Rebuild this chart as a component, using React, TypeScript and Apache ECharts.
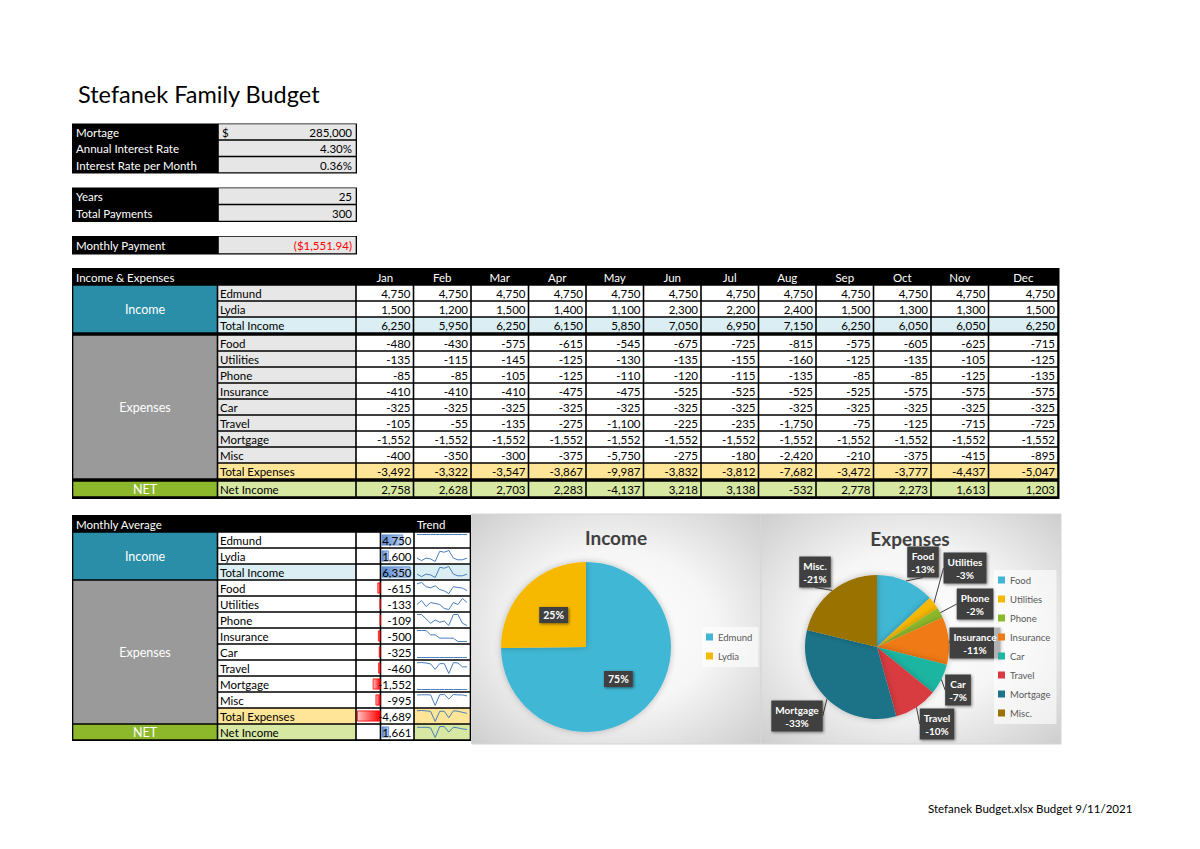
import React, { useEffect, useRef } from 'react';
import * as echarts from 'echarts';

// ---------------- DATA ----------------
const MONTHS = ['Jan', 'Feb', 'Mar', 'Apr', 'May', 'Jun', 'Jul', 'Aug', 'Sep', 'Oct', 'Nov', 'Dec'];
const EDMUND = [4750, 4750, 4750, 4750, 4750, 4750, 4750, 4750, 4750, 4750, 4750, 4750];
const LYDIA = [1500, 1200, 1500, 1400, 1100, 2300, 2200, 2400, 1500, 1300, 1300, 1500];
const FOOD = [-480, -430, -575, -615, -545, -675, -725, -815, -575, -605, -625, -715];
const UTILITIES = [-135, -115, -145, -125, -130, -135, -155, -160, -125, -135, -105, -125];
const PHONE = [-85, -85, -105, -125, -110, -120, -115, -135, -85, -85, -125, -135];
const INSURANCE = [-410, -410, -410, -475, -475, -525, -525, -525, -525, -575, -575, -575];
const CAR = [-325, -325, -325, -325, -325, -325, -325, -325, -325, -325, -325, -325];
const TRAVEL = [-105, -55, -135, -275, -1100, -225, -235, -1750, -75, -125, -715, -725];
const MORTGAGE = [-1551.94, -1551.94, -1551.94, -1551.94, -1551.94, -1551.94, -1551.94, -1551.94, -1551.94, -1551.94, -1551.94, -1551.94];
const MISC = [-400, -350, -300, -375, -5750, -275, -180, -2420, -210, -375, -415, -895];
const EXPENSE_LABELS = ['Food', 'Utilities', 'Phone', 'Insurance', 'Car', 'Travel', 'Mortgage', 'Misc'];
const EXPENSE_PIE_NAMES = ['Food', 'Utilities', 'Phone', 'Insurance', 'Car', 'Travel', 'Mortgage', 'Misc.'];
const INCOME_NAMES = ['Edmund', 'Lydia'];
const LOAN_AMOUNT = 285000;
const ANNUAL_RATE = 0.043;
const YEARS = 25;
const TOTAL_PAYMENTS = 300;
const MONTHLY_PAYMENT = -1551.94;

const EXPENSES = [FOOD, UTILITIES, PHONE, INSURANCE, CAR, TRAVEL, MORTGAGE, MISC];
const INCOMES = [EDMUND, LYDIA];
const TOTAL_INCOME = MONTHS.map((_, m) => INCOMES.reduce((s, a) => s + a[m], 0));
const TOTAL_EXP = MONTHS.map((_, m) => EXPENSES.reduce((s, a) => s + a[m], 0));
const NET = MONTHS.map((_, m) => TOTAL_INCOME[m] + TOTAL_EXP[m]);
const sum = (a: number[]) => a.reduce((s, v) => s + v, 0);
const avg = (a: number[]) => sum(a) / a.length;

// ---------------- STYLE ----------------
const FONT = 'Lato, "Open Sans", "DejaVu Sans", sans-serif';
const FS = 11.5;
const INCOME_COLORS = ['#41b7d4', '#f7b800'];
const EXPENSE_COLORS = ['#41b7d4', '#f7b800', '#8cb82b', '#ef7a12', '#1fb5a2', '#d83a3f', '#1e7388', '#9a7200'];
const EXP_LABEL_POS = [[923, 562], [965, 568], [975, 604], [975, 643], [958, 690], [937, 724], [797, 716], [815, 572]];
const C_TEAL = '#2a8ea8';
const C_GREY = '#9a9a9a';
const C_GREEN = '#8db82b';
const C_LABEL = '#e7e7e7';
const C_TI = '#daeef3';
const C_TE = '#fee598';
const C_NET = '#d7e8a3';
const C_SPARK = '#4a7ebb';

const nf = new Intl.NumberFormat('en-US', { maximumFractionDigits: 0 });
const fmt = (v: number) => nf.format(v);

const AVG_ROWS = [
  { label: 'Edmund', vals: EDMUND, lf: '#fff', vf: '#fff', tf: '#fff' },
  { label: 'Lydia', vals: LYDIA, lf: '#fff', vf: '#fff', tf: '#fff' },
  { label: 'Total Income', vals: TOTAL_INCOME, lf: C_TI, vf: C_TI, tf: C_TI },
  ...EXPENSE_LABELS.map((l, j) => ({ label: l, vals: EXPENSES[j], lf: '#fff', vf: '#fff', tf: '#fff' })),
  { label: 'Total Expenses', vals: TOTAL_EXP, lf: C_TE, vf: '#fff', tf: C_TE },
  { label: 'Net Income', vals: NET, lf: C_NET, vf: '#fff', tf: C_NET },
];

function buildGraphics() {
  const els: any[] = [];
  const R = (x0: number, y0: number, x1: number, y1: number, fill: any, extra: any = {}) =>
    els.push({ type: 'rect', silent: true, shape: { x: x0, y: y0, width: x1 - x0, height: y1 - y0 }, style: { fill, ...extra } });
  const cell = (x0: number, x1: number, y0: number, y1: number, fill: string) => R(x0 + 0.8, y0 + 0.8, x1 - 0.8, y1 - 0.8, fill);
  const T = (x: number, y: number, text: string, o: any = {}) =>
    els.push({
      type: 'text', silent: true, x, y, z: o.z ?? 0,
      style: {
        text, fill: o.fill ?? '#000', fontSize: o.size ?? FS, fontFamily: FONT,
        fontWeight: o.weight ?? 'normal', align: o.align ?? 'left', verticalAlign: 'middle',
      },
    });

  // Title
  T(78, 94, 'Stefanek Family Budget', { size: 23.5 });

  // Top block
  const topBlocks = [
    { y: 123.5, h: 16.5, rows: [['Mortage', fmt(LOAN_AMOUNT), '$'], ['Annual Interest Rate', (ANNUAL_RATE * 100).toFixed(2) + '%'], ['Interest Rate per Month', (ANNUAL_RATE / 12 * 100).toFixed(2) + '%']] },
    { y: 187.5, h: 17, rows: [['Years', String(YEARS)], ['Total Payments', String(TOTAL_PAYMENTS)]] },
    { y: 236, h: 18, rows: [['Monthly Payment', '($' + Math.abs(MONTHLY_PAYMENT).toFixed(2).replace(/\B(?=(\d{3})+(?!\d))/, ',') + ')', '', 'red']] },
  ];
  topBlocks.forEach((b) => {
    R(72, b.y, 357, b.y + b.h * b.rows.length + 0.5, '#000');
    b.rows.forEach((r, i) => {
      const y0 = b.y + i * b.h;
      cell(218, 356.5, y0, y0 + b.h, '#e6e6e6');
      T(76, y0 + b.h / 2 + 0.5, r[0], { fill: '#fff' });
      T(352, y0 + b.h / 2 + 0.5, r[1], { align: 'right', fill: r[3] === 'red' ? '#ff0000' : '#000' });
      if (r[2]) T(222, y0 + b.h / 2 + 0.5, r[2]);
    });
  });

  // Main table
  const colX = MONTHS.map((_, i) => (i < 11 ? [356 + 57.5 * i, 356 + 57.5 * (i + 1)] : [988.5, 1058]));
  R(72, 268, 1059.5, 499, '#000');
  T(76, 277, 'Income & Expenses', { fill: '#fff' });
  MONTHS.forEach((m, i) => T((colX[i][0] + colX[i][1]) / 2, 277, m, { fill: '#fff', align: 'center' }));
  const mainRows: { label: string; vals: number[]; y: number; lf: string; vf: string }[] = [];
  mainRows.push({ label: 'Edmund', vals: EDMUND, y: 285, lf: C_LABEL, vf: '#fff' });
  mainRows.push({ label: 'Lydia', vals: LYDIA, y: 301, lf: C_LABEL, vf: '#fff' });
  mainRows.push({ label: 'Total Income', vals: TOTAL_INCOME, y: 317, lf: C_TI, vf: C_TI });
  EXPENSE_LABELS.forEach((l, j) => mainRows.push({ label: l, vals: EXPENSES[j], y: 335 + 16 * j, lf: C_LABEL, vf: '#fff' }));
  mainRows.push({ label: 'Total Expenses', vals: TOTAL_EXP, y: 463, lf: C_TE, vf: C_TE });
  mainRows.push({ label: 'Net Income', vals: NET, y: 481, lf: C_NET, vf: C_NET });
  cell(72.5, 217.5, 285, 333, C_TEAL);
  cell(72.5, 217.5, 335, 479, C_GREY);
  cell(72.5, 217.5, 481, 497, C_GREEN);
  const G = { fill: '#fff', size: 12.5, align: 'center' };
  T(145, 309.5, 'Income', G);
  T(145, 407.5, 'Expenses', G);
  T(145, 489.5, 'NET', G);
  mainRows.forEach((r) => {
    cell(217.5, 356, r.y, r.y + 16, r.lf);
    T(220, r.y + 8.5, r.label);
    r.vals.forEach((v, i) => {
      cell(colX[i][0], colX[i][1], r.y, r.y + 16, r.vf);
      T(colX[i][1] - 3, r.y + 8.5, fmt(v), { align: 'right' });
    });
  });

  // Monthly average table
  R(72, 515, 471.5, 741, '#000');
  T(76, 524, 'Monthly Average', { fill: '#fff' });
  T(417, 524, 'Trend', { fill: '#fff' });
  cell(72.5, 217.5, 532, 580, C_TEAL);
  cell(72.5, 217.5, 580, 724, C_GREY);
  cell(72.5, 217.5, 724, 740, C_GREEN);
  T(145, 556.5, 'Income', G);
  T(145, 652.5, 'Expenses', G);
  T(145, 732.5, 'NET', G);
  AVG_ROWS.forEach((r, i) => {
    const y0 = 532 + 16 * i;
    cell(217.5, 356, y0, y0 + 16, r.lf);
    T(220, y0 + 8.5, r.label);
    cell(356, 380.5, y0, y0 + 16, '#fff');
    cell(380.5, 414, y0, y0 + 16, r.vf);
    cell(414, 470.5, y0, y0 + 16, r.tf);
    T(411.5, y0 + 8.5, fmt(avg(r.vals)), { align: 'right', z: 10 });
  });

  // chart backgrounds
  const bg = (x0: number, x1: number) =>
    R(x0, 514, x1, 744, {
      type: 'radial', x: 0.5, y: 0.5, r: 0.75,
      colorStops: [{ offset: 0, color: '#ffffff' }, { offset: 0.45, color: '#f6f6f6' }, { offset: 1, color: '#c9c9c9' }],
    }, { stroke: '#d6d6d6', lineWidth: 1 });
  bg(471.5, 761);
  bg(761, 1061);
  T(616, 537.5, 'Income', { size: 19, weight: 'bold', fill: '#404040', align: 'center' });
  T(910, 538.5, 'Expenses', { size: 19, weight: 'bold', fill: '#404040', align: 'center' });

  // footer
  T(928, 808, 'Stefanek Budget.xlsx Budget 9/11/2021', { size: 11.5 });
  return els;
}

function buildOption() {
  const grids: any[] = [];
  const xAxes: any[] = [];
  const yAxes: any[] = [];
  const series: any[] = [];
  const graphics = buildGraphics();

  // sparklines
  AVG_ROWS.forEach((r, i) => {
    const y0 = 532 + 16 * i;
    let mn = Math.min(...r.vals);
    let mx = Math.max(...r.vals);
    if (mn === mx) {
      if (mn > 0) mn = 0; else mx = 0;
    }
    grids.push({ left: 417, top: y0 + 2.5, width: 50, height: 11 });
    xAxes.push({ type: 'category', gridIndex: i, show: false, boundaryGap: false, data: MONTHS });
    yAxes.push({ type: 'value', gridIndex: i, show: false, min: mn, max: mx, scale: true });
    series.push({
      type: 'line', xAxisIndex: i, yAxisIndex: i, data: r.vals, symbol: 'none', silent: true,
      lineStyle: { color: C_SPARK, width: 1 }, z: 5,
    });
  });

  // data bars
  const avgs = AVG_ROWS.map((r) => avg(r.vals));
  const labels = AVG_ROWS.map((r) => r.label);
  const gp = grids.length;
  grids.push({ left: 381.5, top: 532, width: 31, height: 208 });
  xAxes.push({ type: 'value', gridIndex: gp, show: false, min: 0, max: 6800 });
  yAxes.push({ type: 'category', gridIndex: gp, show: false, inverse: true, data: labels });
  series.push({
    type: 'bar', xAxisIndex: gp, yAxisIndex: gp, barWidth: 11, silent: true, z: 3,
    data: avgs.map((v) => (v > 0 ? v : '-')),
    itemStyle: {
      color: new echarts.graphic.LinearGradient(0, 0, 1, 0, [{ offset: 0, color: '#5a8ad0' }, { offset: 1, color: '#b9cff0' }]),
      borderColor: '#5a8ad0', borderWidth: 0.8,
    },
  });
  const gn = grids.length;
  grids.push({ left: 357, top: 532, width: 23.5, height: 208 });
  xAxes.push({ type: 'value', gridIndex: gn, show: false, min: 0, max: 4700, inverse: true });
  yAxes.push({ type: 'category', gridIndex: gn, show: false, inverse: true, data: labels });
  series.push({
    type: 'bar', xAxisIndex: gn, yAxisIndex: gn, barWidth: 11, silent: true, z: 3,
    data: avgs.map((v) => (v < 0 ? -v : '-')),
    itemStyle: {
      color: new echarts.graphic.LinearGradient(0, 0, 1, 0, [{ offset: 0, color: '#ffc4c4' }, { offset: 1, color: '#ff0000' }]),
      borderColor: '#ff0000', borderWidth: 0.8,
    },
  });

  // pies
  series.push({
    type: 'pie', name: 'Income', center: [586, 647], radius: 85, startAngle: 90, clockwise: true, silent: true,
    data: INCOME_NAMES.map((n, i) => ({ name: n, value: sum(INCOMES[i]), itemStyle: { color: INCOME_COLORS[i] } })),
    itemStyle: { shadowBlur: 6, shadowColor: 'rgba(0,0,0,0.25)' },
    label: {
      show: true, position: 'inside', formatter: (p: any) => Math.round(p.percent) + '%',
      color: '#fff', fontSize: 10.5, fontWeight: 'bold', fontFamily: FONT, backgroundColor: '#404040', padding: [3, 4, 2, 4],
      shadowBlur: 3, shadowColor: 'rgba(0,0,0,0.5)', shadowOffsetX: 1, shadowOffsetY: 1,
    },
    labelLine: { show: false },
    emphasis: { disabled: true },
  });
  series.push({
    type: 'pie', name: 'Expenses', center: [877, 647], radius: 72, startAngle: 90, clockwise: true, silent: true,
    data: EXPENSE_PIE_NAMES.map((n, i) => ({ name: n, value: Math.abs(sum(EXPENSES[i])), itemStyle: { color: EXPENSE_COLORS[i] } })),
    itemStyle: { shadowBlur: 6, shadowColor: 'rgba(0,0,0,0.25)' },
    label: {
      show: true, position: 'outside', formatter: (p: any) => `${p.name}\n-${Math.round(p.percent)}%`,
      color: '#fff', fontSize: 10, lineHeight: 13, fontWeight: 'bold', fontFamily: FONT, backgroundColor: '#404040', padding: [3, 4, 2, 4],
      align: 'center', shadowBlur: 3, shadowColor: 'rgba(0,0,0,0.5)', shadowOffsetX: 1, shadowOffsetY: 1,
    },
    labelLine: { show: true, length: 6, length2: 0, lineStyle: { color: '#404040', width: 1 } },
    labelLayout: (params: any) => {
      const p = EXP_LABEL_POS[params.dataIndex];
      return { x: p[0], y: p[1], align: 'center', verticalAlign: 'middle' };
    },
    emphasis: { disabled: true },
  });

  const legendBase = {
    orient: 'vertical', itemWidth: 7, itemHeight: 7, icon: 'rect', selectedMode: false,
    textStyle: { fontSize: 9.5, color: '#595959', fontFamily: FONT },
    backgroundColor: 'rgba(255,255,255,0.6)',
  };

  return {
    animation: false,
    textStyle: { fontFamily: FONT },
    graphic: { elements: graphics },
    grid: grids,
    xAxis: xAxes,
    yAxis: yAxes,
    legend: [
      { ...legendBase, data: INCOME_NAMES, left: 702, top: 627, itemGap: 9, padding: [5, 6, 6, 4] },
      { ...legendBase, data: EXPENSE_PIE_NAMES, left: 994, top: 570, itemGap: 9, padding: [5, 6, 6, 4] },
    ],
    series,
  };
}

export default function App() {
  const ref = useRef<HTMLDivElement>(null);
  useEffect(() => {
    if (!ref.current) return;
    const chart = echarts.init(ref.current, null, { renderer: 'svg' });
    chart.setOption(buildOption() as any);
    return () => chart.dispose();
  }, []);
  return (
    <div
      ref={ref}
      style={{ position: 'absolute', left: 0, top: 0, width: 1200, height: 849, background: '#ffffff' }}
    />
  );
}
